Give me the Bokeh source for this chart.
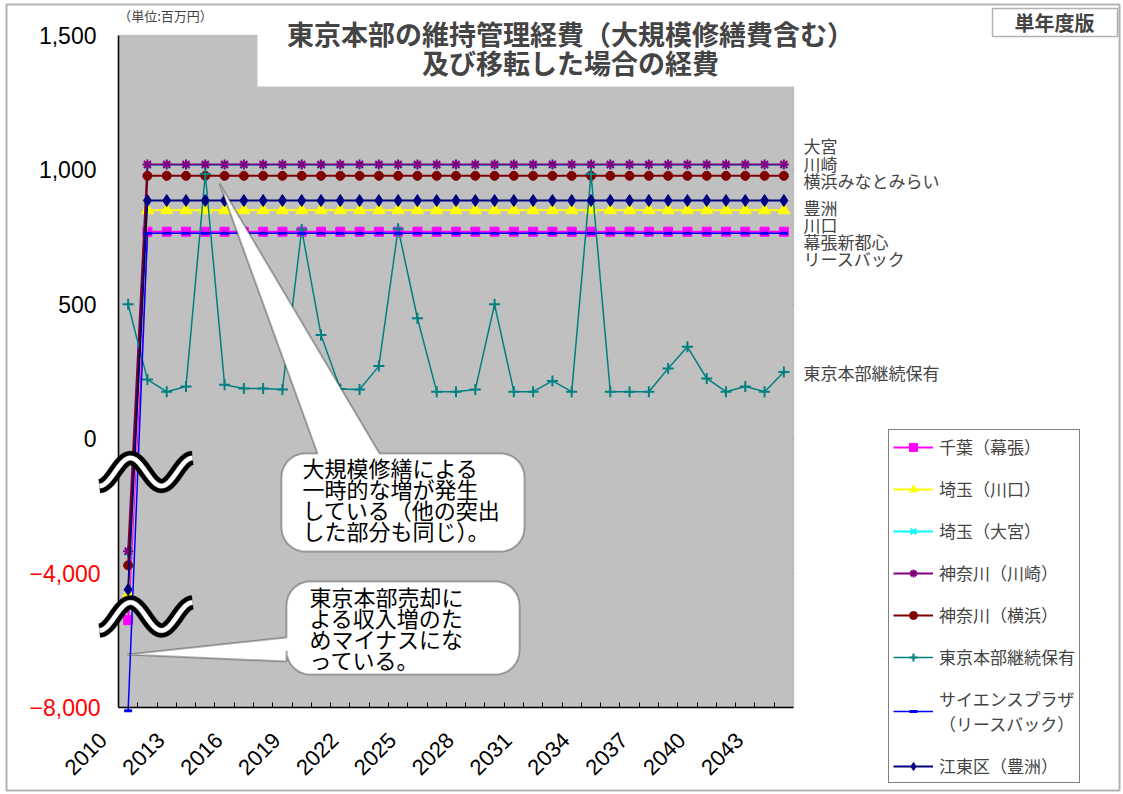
import numpy as np
from bokeh.plotting import figure
from bokeh.models import (ColumnDataSource, FixedTicker, Label, BoxAnnotation,
                          PolyAnnotation, Legend, LegendItem, Range1d, LinearAxis,
                          CustomJSTickFormatter)
from bokeh.embed import file_html
from bokeh.resources import INLINE

# ---------------------------------------------------------------- data (百万円)
years = list(range(2010, 2045))
label_years = [2010, 2013, 2016, 2019, 2022, 2025, 2028, 2031, 2034, 2037, 2040, 2043]

y_tick_values = [-8000, -4000, 0, 500, 1000, 1500]
y_tick_labels = ["−8,000", "−4,000", "0", "500", "1,000", "1,500"]

chiba = [-5400, 770, 770, 770, 770, 770, 770, 770, 770, 770, 770, 770, 770, 770, 770, 770, 770, 770,
         770, 770, 770, 770, 770, 770, 770, 770, 770, 770, 770, 770, 770, 770, 770, 770, 770]
kawaguchi = [-4640, 850, 850, 850, 850, 850, 850, 850, 850, 850, 850, 850, 850, 850, 850, 850, 850, 850,
             850, 850, 850, 850, 850, 850, 850, 850, 850, 850, 850, 850, 850, 850, 850, 850, 850]
omiya = [-3400, 1018, 1018, 1018, 1018, 1018, 1018, 1018, 1018, 1018, 1018, 1018, 1018, 1018, 1018, 1018,
         1018, 1018, 1018, 1018, 1018, 1018, 1018, 1018, 1018, 1018, 1018, 1018, 1018, 1018, 1018, 1018,
         1018, 1018, 1018]
kawasaki = [-3350, 1020, 1020, 1020, 1020, 1020, 1020, 1020, 1020, 1020, 1020, 1020, 1020, 1020, 1020, 1020,
            1020, 1020, 1020, 1020, 1020, 1020, 1020, 1020, 1020, 1020, 1020, 1020, 1020, 1020, 1020, 1020,
            1020, 1020, 1020]
yokohama = [-3770, 978, 978, 978, 978, 978, 978, 978, 978, 978, 978, 978, 978, 978, 978, 978, 978, 978,
            978, 978, 978, 978, 978, 978, 978, 978, 978, 978, 978, 978, 978, 978, 978, 978, 978]
tokyo_keep = [500, 220, 175, 194, 985, 201, 187, 187, 183, 778, 386, 185, 183, 270, 781, 448, 175, 175,
              183, 500, 175, 175, 215, 175, 985, 175, 175, 175, 261, 342, 224, 175, 194, 175, 248]
science_plaza = [-8100, 764, 764, 764, 764, 764, 764, 764, 764, 764, 764, 764, 764, 764, 764, 764, 764, 764,
                 764, 764, 764, 764, 764, 764, 764, 764, 764, 764, 764, 764, 764, 764, 764, 764, 764]
toyosu = [-4490, 886, 886, 886, 886, 886, 886, 886, 886, 886, 886, 886, 886, 886, 886, 886, 886, 886,
          886, 886, 886, 886, 886, 886, 886, 886, 886, 886, 886, 886, 886, 886, 886, 886, 886]


def to_axis(v):
    """Broken axis: each 4,000 below zero is drawn with the height of 500 above zero."""
    return v if v >= 0 else v / 8.0


JP = "Noto Sans CJK JP"
NUM = "Liberation Sans"

# page and plot-area geometry (pixels)
W, H = 1123, 794
AREA_L, AREA_R, AREA_T, AREA_B = 118, 793, 35, 707
X0, X1 = 2009.5, 2044.5
Y0, Y1 = to_axis(-8000), 1500
xpp = (X1 - X0) / (AREA_R - AREA_L)
ypp = (Y1 - Y0) / (AREA_B - AREA_T)

# the frame covers the whole page so that notes, legend and break marks can sit anywhere
p = figure(width=W, height=H, min_border=0,
           x_range=Range1d(X0 - AREA_L * xpp, X1 + (W - AREA_R) * xpp),
           y_range=Range1d(Y0 - (H - AREA_B) * ypp, Y1 + AREA_T * ypp),
           x_axis_location=None, y_axis_location=None,
           output_backend="svg", toolbar_location=None,
           background_fill_color="white", border_fill_color="white")
p.outline_line_color = None
p.grid.visible = False

# grey plot area
p.add_layout(BoxAnnotation(left=X0, right=X1, bottom=Y0, top=Y1, fill_color="#C0C0C0", fill_alpha=1,
                           line_color="#808080", line_width=1.5, level="underlay"))

# horizontal grid lines
grid_y = [to_axis(v) for v in y_tick_values[1:5]]
p.segment(x0=[X0] * len(grid_y), x1=[X1] * len(grid_y), y0=grid_y, y1=grid_y,
          line_color="#1a1a1a", line_width=1.2, level="underlay")

# ---------------------------------------------------------------- axes
yax = LinearAxis(fixed_location=X0, bounds=(Y0, Y1),
                 ticker=FixedTicker(ticks=[to_axis(v) for v in y_tick_values]))
yax.major_label_overrides = {int(to_axis(v)): (lab if v >= 0 else "")
                             for v, lab in zip(y_tick_values, y_tick_labels)}
yax.major_tick_in = 0
yax.major_tick_out = 0
yax.minor_tick_line_color = None
yax.major_label_standoff = 22
yax.major_label_text_font = NUM
yax.major_label_text_font_size = "23px"
yax.major_label_text_color = "black"
yax.axis_line_width = 1.5
yax.axis_line_color = "black"
p.add_layout(yax, "left")

# bottom axis line with a tick between every year
xax = LinearAxis(fixed_location=Y0, bounds=(X0, X1),
                 ticker=FixedTicker(ticks=[], minor_ticks=[y + 0.5 for y in years[:-1]]))
xax.major_tick_in = 0
xax.major_tick_out = 0
xax.minor_tick_in = 5
xax.minor_tick_out = 0
xax.minor_tick_line_color = "black"
xax.major_label_text_alpha = 0
xax.axis_line_width = 1.5
xax.axis_line_color = "black"
p.add_layout(xax, "below")

# rotated year labels every three years
label_shift = 1.3
xlab = LinearAxis(fixed_location=Y0, bounds=(X0 - 3, X1),
                  ticker=FixedTicker(ticks=[y - label_shift for y in label_years]))
xlab.formatter = CustomJSTickFormatter(args=dict(shift=label_shift),
                                       code="return String(Math.round(tick + shift));")
xlab.axis_line_color = None
xlab.major_tick_line_color = None
xlab.minor_tick_line_color = None
xlab.major_label_orientation = np.pi / 4
xlab.major_label_standoff = 23
xlab.major_label_text_font = NUM
xlab.major_label_text_font_size = "22px"
xlab.major_label_text_color = "black"
p.add_layout(xlab, "below")

# red labels for the negative (broken) part of the axis
for v, lab in zip(y_tick_values, y_tick_labels):
    if v < 0:
        p.add_layout(Label(x=100, x_units="canvas", y=to_axis(v), y_units="data", text=lab,
                           text_align="right", text_baseline="middle", text_color="#FF0000",
                           text_font=NUM, text_font_size="23px"))

# ---------------------------------------------------------------- series
series = [
    ("千葉（幕張）", chiba, "#FF00FF", "square", 9, 2),
    ("埼玉（川口）", kawaguchi, "#FFFF00", "triangle", 12, 2),
    ("埼玉（大宮）", omiya, "#00FFFF", "x", 9, 2),
    ("神奈川（川崎）", kawasaki, "#800080", "asterisk", 10, 2),
    ("神奈川（横浜）", yokohama, "#800000", "circle", 9, 2),
    ("東京本部継続保有", tokyo_keep, "#008080", "cross", 11, 1.5),
    ("サイエンスプラザ\n（リースバック）", science_plaza, "#0000FF", "dash", 8, 1.5),
    ("江東区（豊洲）", toyosu, "#000080", "diamond", 12, 2),
]

items = []
for name, vals, color, marker, size, lw in series:
    src = ColumnDataSource(dict(year=years, value=vals, y=[to_axis(v) for v in vals]))
    ln = p.line("year", "y", source=src, line_color=color, line_width=lw)
    if marker in ("x", "asterisk", "cross", "dash"):
        sc = p.scatter("year", "y", source=src, marker=marker, size=size,
                       line_color=color, line_width=2 if marker != "dash" else 3, fill_color=None)
    else:
        sc = p.scatter("year", "y", source=src, marker=marker, size=size,
                       line_color=color, fill_color=color)
    items.append(LegendItem(label=name, renderers=[ln, sc]))

# ---------------------------------------------------------------- decorations
# white panel behind the title
p.add_layout(BoxAnnotation(left=257, right=795, top=28, bottom=86,
                           left_units="canvas", right_units="canvas", top_units="canvas", bottom_units="canvas",
                           fill_color="white", fill_alpha=1, line_color=None))


def bubble(L, T, R, B, r, notch_side, n0, n1, tip):
    pts = []
    arc = lambda cx, cy, a0, a1: [(cx + r * np.cos(a), cy + r * np.sin(a)) for a in np.linspace(a0, a1, 10)]
    pts.append((L + r, T))
    if notch_side == "top":
        pts += [(n0, T), tip, (n1, T)]
    pts += arc(R - r, T + r, -np.pi / 2, 0)
    pts += arc(R - r, B - r, 0, np.pi / 2)
    pts += arc(L + r, B - r, np.pi / 2, np.pi)
    if notch_side == "left":
        pts += [(L, n1), tip, (L, n0)]
    pts += arc(L + r, T + r, np.pi, 1.5 * np.pi)
    xs, ys = zip(*pts)
    return PolyAnnotation(xs=list(xs), ys=list(ys), xs_units="canvas", ys_units="canvas",
                          fill_color="white", fill_alpha=1, line_color="black", line_width=2)


p.add_layout(bubble(281, 453, 524, 551, 24, "top", 317, 379, (219, 183)))
p.add_layout(bubble(286, 581, 519, 674, 24, "left", 637, 661, (127, 654)))

for i, line in enumerate(["大規模修繕による", "一時的な増が発生", "している（他の突出", "した部分も同じ）。"]):
    p.add_layout(Label(x=302, y=466 + 21 * i, x_units="canvas", y_units="canvas", text=line,
                       text_baseline="middle", text_font=JP, text_font_size="22px", text_color="black"))
for i, line in enumerate(["東京本部売却に", "よる収入増のた", "めマイナスにな", "っている。"]):
    p.add_layout(Label(x=309, y=595 + 21 * i, x_units="canvas", y_units="canvas", text=line,
                       text_baseline="middle", text_font=JP, text_font_size="22px", text_color="black"))


# axis-break marks
def wave(cy, hw, color):
    xs = np.linspace(99, 192, 60)
    ys = cy - 14 * np.sin(2 * np.pi * (xs - 114.5) / 62)
    dy = np.gradient(ys, xs)
    n = np.sqrt(1 + dy ** 2)
    nx, ny = -dy / n, 1 / n
    px = np.concatenate([xs + nx * hw, (xs - nx * hw)[::-1]])
    py = np.concatenate([ys + ny * hw, (ys - ny * hw)[::-1]])
    return PolyAnnotation(xs=list(px), ys=list(py), xs_units="canvas", ys_units="canvas",
                          fill_color=color, fill_alpha=1, line_color=color, line_width=1)


for cy in (471.5, 616):
    p.add_layout(wave(cy, 7, "black"))
    p.add_layout(wave(cy, 2.3, "white"))

# titles and notes
p.add_layout(Label(x=570, y=33, x_units="canvas", y_units="canvas", text="東京本部の維持管理経費（大規模修繕費含む）",
                   text_align="center", text_baseline="middle", text_font=JP, text_font_size="27px",
                   text_font_style="bold"))
p.add_layout(Label(x=570, y=62, x_units="canvas", y_units="canvas", text="及び移転した場合の経費",
                   text_align="center", text_baseline="middle", text_font=JP, text_font_size="27px",
                   text_font_style="bold"))
p.add_layout(Label(x=165, y=15, x_units="canvas", y_units="canvas", text="（単位:百万円）",
                   text_align="center", text_baseline="middle", text_font=JP, text_font_size="13px"))

p.add_layout(BoxAnnotation(left=992, right=1117, top=8, bottom=36,
                           left_units="canvas", right_units="canvas", top_units="canvas", bottom_units="canvas",
                           fill_color="white", fill_alpha=1, line_color="black", line_width=1.5))
p.add_layout(Label(x=1054, y=22, x_units="canvas", y_units="canvas", text="単年度版",
                   text_align="center", text_baseline="middle", text_font=JP, text_font_size="20px",
                   text_font_style="bold"))

# names beside the lines
side_names = [("大宮", 145), ("川崎", 162.5), ("横浜みなとみらい", 180), ("豊洲", 207), ("川口", 224),
              ("幕張新都心", 240.5), ("リースバック", 257.5), ("東京本部継続保有", 372)]
for txt, yy in side_names:
    p.add_layout(Label(x=803, y=yy, x_units="canvas", y_units="canvas", text=txt,
                       text_baseline="middle", text_font=JP, text_font_size="17px"))

# legend
legend = Legend(items=items, location=(888, H - 783),
                border_line_color="black", border_line_width=1.5,
                background_fill_color="white", background_fill_alpha=1,
                padding=4, spacing=17, margin=0, label_standoff=6,
                glyph_width=40, glyph_height=20, label_height=20,
                label_text_font=JP, label_text_font_size="17px", label_text_line_height=1.0)
p.add_layout(legend)

# outer frame of the sheet
p.add_layout(BoxAnnotation(left=6, right=1119, top=4, bottom=790,
                           left_units="canvas", right_units="canvas", top_units="canvas", bottom_units="canvas",
                           fill_alpha=0, line_color="black", line_width=2))

open("out.html", "w").write(file_html(p, INLINE))
